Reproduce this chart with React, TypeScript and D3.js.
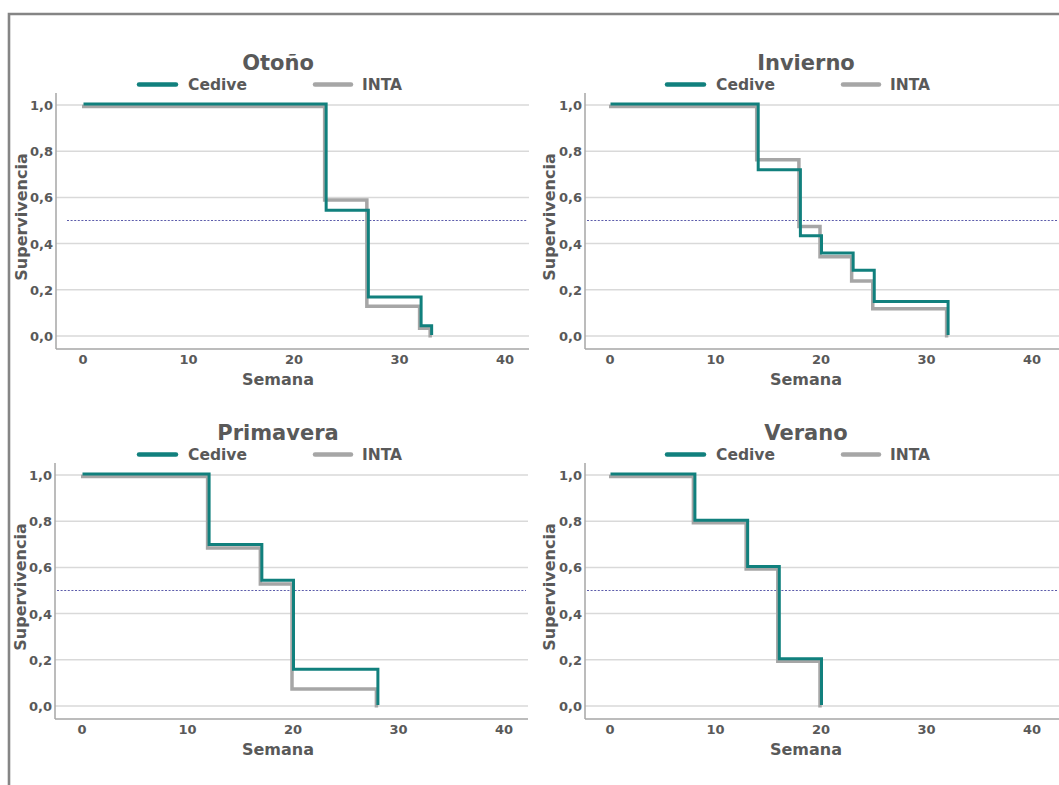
import React from "react";
import * as d3 from "d3";

const seasons = ["Otoño", "Invierno", "Primavera", "Verano"];
const seriesNames = ["Cedive", "INTA"];

const weeksOtono = [0, 23, 27, 32, 33];
const cediveOtono = [1, 0.54, 0.165, 0.04, 0];
const intaOtono = [1, 0.595, 0.135, 0.04, 0];

const weeksInvierno = [0, 14, 18, 20, 23, 25, 32];
const cediveInvierno = [1, 0.715, 0.43, 0.355, 0.28, 0.145, 0];
const intaInvierno = [1, 0.77, 0.48, 0.35, 0.245, 0.125, 0];

const weeksPrimavera = [0, 12, 17, 20, 28];
const cedivePrimavera = [1, 0.695, 0.54, 0.155, 0];
const intaPrimavera = [1, 0.69, 0.535, 0.08, 0];

const weeksVerano = [0, 8, 13, 16, 20];
const cediveVerano = [1, 0.8, 0.6, 0.2, 0];
const intaVerano = [1, 0.8, 0.6, 0.2, 0];

const xTicks = [0, 10, 20, 30, 40];
const yTicks = [0, 0.2, 0.4, 0.6, 0.8, 1.0];
const yTickLabels = ["0,0", "0,2", "0,4", "0,6", "0,8", "1,0"];
const medianLine = 0.5;

const panelData = [
  { weeks: weeksOtono, cedive: cediveOtono, inta: intaOtono },
  { weeks: weeksInvierno, cedive: cediveInvierno, inta: intaInvierno },
  { weeks: weeksPrimavera, cedive: cedivePrimavera, inta: intaPrimavera },
  { weeks: weeksVerano, cedive: cediveVerano, inta: intaVerano },
];

// layout (pixels)
const layouts = [
  { axisX: 56, zeroX: 83, gridEnd: 529, rowDy: 0, cx: 278, supX: 21, dotStart: 67 },
  { axisX: 585, zeroX: 610, gridEnd: 1059, rowDy: 0, cx: 806, supX: 549, dotStart: 587 },
  { axisX: 55, zeroX: 82, gridEnd: 528, rowDy: 370, cx: 278, supX: 20, dotStart: 57 },
  { axisX: 585, zeroX: 610, gridEnd: 1059, rowDy: 370, cx: 806, supX: 549, dotStart: 587 },
];

const TEAL = "#11807d";
const GRAY = "#a6a6a6";
const TEXT = "#595959";
const FONT = "'DejaVu Sans', Verdana, sans-serif";

function Panel({ idx }: { idx: number }) {
  const L = layouts[idx];
  const D = panelData[idx];
  const pxPerUnit = 10.55;
  const x = d3.scaleLinear().domain([0, 40]).range([L.zeroX, L.zeroX + 40 * pxPerUnit]);
  const y = d3.scaleLinear().domain([0, 1]).range([336 + L.rowDy, 105 + L.rowDy]);
  const axisTop = 93 + L.rowDy;
  const axisBottom = 349 + L.rowDy;
  const line = d3
    .line<[number, number]>()
    .x((d) => x(d[0]))
    .y((d) => y(d[1]))
    .curve(d3.curveStepAfter);
  const cPts = D.weeks.map((w, i) => [w, D.cedive[i]] as [number, number]);
  const iPts = D.weeks.map((w, i) => [w, D.inta[i]] as [number, number]);
  const legY = 84.5 + L.rowDy;
  const legOff = L.cx - 278;
  return (
    <g>
      {yTicks.map((t, i) => (
        <g key={"g" + i}>
          <line x1={L.axisX} x2={L.gridEnd} y1={y(t)} y2={y(t)} stroke="#d9d9d9" strokeWidth={1.5} />
          <text
            x={L.axisX - 3}
            y={y(t) + 5}
            textAnchor="end"
            fontSize={13}
            fontWeight="bold"
            fill={TEXT}
            fontFamily={FONT}
          >
            {yTickLabels[i]}
          </text>
        </g>
      ))}
      <line x1={L.axisX} x2={L.axisX} y1={axisTop} y2={axisBottom} stroke="#a6a6a6" strokeWidth={1.5} />
      <line x1={L.axisX} x2={L.gridEnd} y1={axisBottom} y2={axisBottom} stroke="#a6a6a6" strokeWidth={1.5} />
      {xTicks.map((t) => (
        <text
          key={"x" + t}
          x={x(t)}
          y={axisBottom + 15}
          textAnchor="middle"
          fontSize={13}
          fontWeight="bold"
          fill={TEXT}
          fontFamily={FONT}
        >
          {t}
        </text>
      ))}
      <line
        x1={L.dotStart}
        x2={L.gridEnd - 2}
        y1={y(medianLine)}
        y2={y(medianLine)}
        stroke="#5c5cab"
        strokeWidth={1.2}
        strokeDasharray="2 1.6"
      />
      <path d={line(iPts) || ""} fill="none" stroke={GRAY} strokeWidth={3.5} transform="translate(-1,1.5)" />
      <path d={line(cPts) || ""} fill="none" stroke={TEAL} strokeWidth={3} transform="translate(0.5,-1)" />
      <text
        x={L.cx}
        y={70 + L.rowDy}
        textAnchor="middle"
        fontSize={21}
        fontWeight="bold"
        fill={TEXT}
        fontFamily={FONT}
      >
        {seasons[idx]}
      </text>
      <line x1={139 + legOff} x2={176 + legOff} y1={legY} y2={legY} stroke={TEAL} strokeWidth={4.5} strokeLinecap="round" />
      <text x={188 + legOff} y={90 + L.rowDy} fontSize={15.5} fontWeight="bold" fill={TEXT} fontFamily={FONT}>
        {seriesNames[0]}
      </text>
      <line x1={315 + legOff} x2={351 + legOff} y1={legY} y2={legY} stroke={GRAY} strokeWidth={4.5} strokeLinecap="round" />
      <text x={362 + legOff} y={90 + L.rowDy} fontSize={15.5} fontWeight="bold" fill={TEXT} fontFamily={FONT}>
        {seriesNames[1]}
      </text>
      <text
        x={L.cx}
        y={385 + L.rowDy}
        textAnchor="middle"
        fontSize={16}
        fontWeight="bold"
        fill={TEXT}
        fontFamily={FONT}
      >
        Semana
      </text>
      <text
        transform={`translate(${L.supX + 6},${217 + L.rowDy}) rotate(-90)`}
        textAnchor="middle"
        fontSize={16}
        fontWeight="bold"
        fill={TEXT}
        fontFamily={FONT}
      >
        Supervivencia
      </text>
    </g>
  );
}

export default function App() {
  return (
    <svg
      width={1059}
      height={785}
      style={{ position: "absolute", left: 0, top: 0, background: "#fff" }}
    >
      <rect x={0} y={0} width={1059} height={785} fill="#fff" />
      <path d="M9,790 L9,14 L1070,14" fill="none" stroke="#858585" strokeWidth={2.6} />
      {[0, 1, 2, 3].map((i) => (
        <Panel key={i} idx={i} />
      ))}
    </svg>
  );
}
